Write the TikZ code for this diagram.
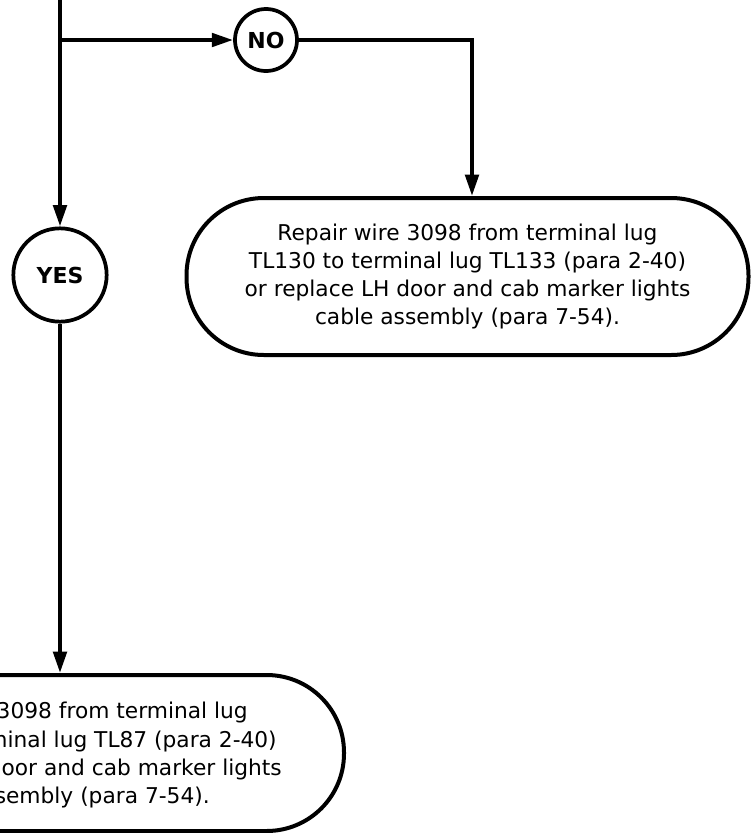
\documentclass[tikz,border=0pt]{standalone}
\usepackage{fontspec}
\setmainfont{DejaVu Sans}
\usetikzlibrary{arrows.meta}
\tikzset{
  conn/.style={line width=3pt},
  arr/.style={conn,-{Triangle[length=16pt,width=10pt]}},
  decision/.style={circle,draw,line width=2.8pt,inner sep=0pt,font=\fontsize{16.5pt}{19pt}\selectfont\bfseries},
  action/.style={draw,line width=3pt,rounded corners=58pt,inner sep=0pt,align=center,
    font=\fontsize{16.3pt}{21.2pt}\selectfont},
  frag/.style={inner sep=0pt,font=\fontsize{16.3pt}{21.2pt}\selectfont}
}
\begin{document}
\begin{tikzpicture}[x=0.75pt,y=-0.75pt]
\useasboundingbox (0,0) rectangle (751,833);
\clip (0,0) rectangle (751,833);
\fill[white] (0,0) rectangle (751,833);
% decisions
\node[decision,minimum size=46.5pt] (no) at (266,40) {NO};
\node[decision,minimum size=70pt] (yes) at (60,275) {YES};
% action boxes
\node[action,minimum width=421.5pt,minimum height=117.75pt] (b1) at (467.5,276.5)
  {Repair wire 3098 from terminal lug\\TL130 to terminal lug TL133 (para 2-40)\\or replace LH door and cab marker lights\\cable assembly (para 7-54).};
\node[action,minimum width=421.5pt,minimum height=117pt] (b2) at (63,753) {};
\node[frag,anchor=base east] (t1) at (248,718) {wire 3098 from terminal lug};
\node[frag,anchor=base east] (t2) at (277,747) {to terminal lug TL87 (para 2-40)};
\node[frag,anchor=base east] (t3) at (282,775) {replace LH door and cab marker lights};
\node[frag,anchor=base east] (t4) at (210,803) {cable assembly (para 7-54).};
% connectors
\coordinate (top) at (60,-10);
\coordinate (br) at (60,40);
\coordinate (c1) at (472,40);
\draw[arr] (top) -- (yes.north);
\draw[arr] (br) -- (no.west);
\draw[arr] (no.east) -- (c1) -- (c1 |- b1.north);
\draw[arr] (yes.south) -- (yes.south |- b2.north);
\end{tikzpicture}
\end{document}
